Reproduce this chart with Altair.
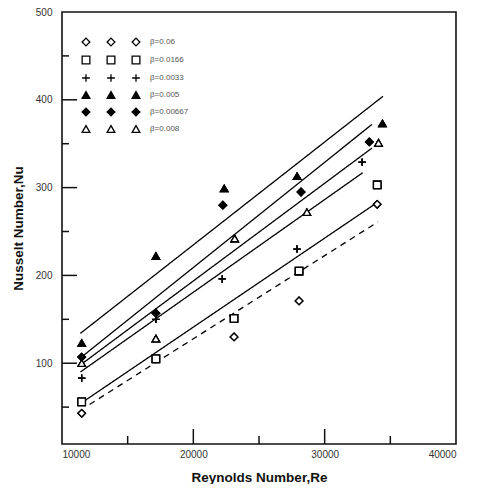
import altair as alt
import pandas as pd

# ---- data ----
series = ["β=0.06", "β=0.0166", "β=0.0033", "β=0.005", "β=0.00667", "β=0.008"]

re_006 = [11500, 23100, 28050, 34000]
nu_006 = [43, 130, 171, 281]

re_0166 = [11500, 17150, 23100, 28050, 34000]
nu_0166 = [56, 105, 151, 205, 303]

re_0033 = [11500, 17150, 22200, 27900, 32850]
nu_0033 = [83, 150, 196, 230, 329]

re_005 = [11500, 17150, 22350, 27900, 34400]
nu_005 = [123, 222, 299, 313, 373]

re_00667 = [11500, 17150, 22250, 28200, 33400]
nu_00667 = [107, 157, 280, 295, 352]

re_008 = [11500, 17150, 23150, 28650, 34100]
nu_008 = [100, 128, 242, 272, 351]

# fitted lines: start / end
line_re_006 = [12100, 34060]
line_nu_006 = [53, 261]
line_re_0166 = [11600, 33900]
line_nu_0166 = [56, 282]
line_re_0033 = [11400, 32900]
line_nu_0033 = [90, 317]
line_re_005 = [11400, 34440]
line_nu_005 = [134, 404]
line_re_00667 = [11400, 33600]
line_nu_00667 = [106, 372]
line_re_008 = [11400, 33600]
line_nu_008 = [98, 345]

# axis tick values
x_labels = [10000, 20000, 30000, 40000]
y_labels = [100, 200, 300, 400, 500]
x_major_ticks = [20000, 30000]
x_minor_ticks = [15000, 25000, 35000]
y_major_ticks = [100, 200, 300, 400]
y_minor_ticks = [50, 150, 250, 350, 450]

pts = [
    (series[0], re_006, nu_006),
    (series[1], re_0166, nu_0166),
    (series[2], re_0033, nu_0033),
    (series[3], re_005, nu_005),
    (series[4], re_00667, nu_00667),
    (series[5], re_008, nu_008),
]
lns = [
    (series[0], line_re_006, line_nu_006),
    (series[1], line_re_0166, line_nu_0166),
    (series[2], line_re_0033, line_nu_0033),
    (series[3], line_re_005, line_nu_005),
    (series[4], line_re_00667, line_nu_00667),
    (series[5], line_re_008, line_nu_008),
]
pts_df = pd.DataFrame([{"series": s, "Re": r, "Nu": n} for s, rs, ns in pts for r, n in zip(rs, ns)])
lns_df = pd.DataFrame([{"series": s, "Re": r, "Nu": n} for s, rs, ns in lns for r, n in zip(rs, ns)])

FONT = "Liberation Sans"
W, H = 394, 432
xs = alt.Scale(domain=[10000, 40000], nice=False, zero=False)
ys = alt.Scale(domain=[8, 500], nice=False, zero=False)

shape_range = ["diamond", "square", "M-1,0H1M0,-1V1", "triangle-up", "diamond", "triangle-up"]
fill_range = ["white", "white", "white", "black", "black", "white"]
stroke_range = ["black"] * 6

main_x = alt.Axis(orient="bottom", values=x_labels, format="d",
                  ticks=False, domain=False, grid=False, labelFont=FONT, labelFontSize=10,
                  labelColor="#333", labelPadding=5, title="Reynolds Number,Re",
                  titleFont=FONT, titleFontSize=13.5, titleFontWeight="bold",
                  titleColor="#111", titlePadding=11)
main_y = alt.Axis(orient="left", values=y_labels, format="d",
                  ticks=False, domain=False, grid=False, labelFont=FONT, labelFontSize=10,
                  labelColor="#333", labelPadding=10, title="Nusselt Number,Nu",
                  titleFont=FONT, titleFontSize=13.5, titleFontWeight="bold",
                  titleColor="#111", titlePadding=10)

lines = alt.Chart(lns_df).mark_line(color="black", strokeWidth=1.3).encode(
    x=alt.X("Re:Q", scale=xs, axis=main_x),
    y=alt.Y("Nu:Q", scale=ys, axis=main_y),
    detail="series:N",
    strokeDash=alt.StrokeDash("series:N", scale=alt.Scale(
        domain=series, range=[[6, 5], [1, 0], [1, 0], [1, 0], [1, 0], [1, 0]]), legend=None),
)


def xticks(vals, size):
    return alt.Chart(pd.DataFrame({"Re": vals})).mark_rule(color="#111", strokeWidth=1.5).encode(
        x=alt.X("Re:Q", scale=xs),
        y=alt.value(H), y2=alt.value(H - size))


def yticks(vals, size):
    return alt.Chart(pd.DataFrame({"Nu": vals})).mark_rule(color="#111", strokeWidth=1.5).encode(
        y=alt.Y("Nu:Q", scale=ys),
        x=alt.value(0), x2=alt.value(size))


def points(lx, show_labels):
    leg = dict(orient="none", legendX=lx, legendY=25, title=None, symbolSize=60,
               rowPadding=4, padding=0, symbolStrokeWidth=1.3,
               labelFont=FONT, labelFontSize=8, labelColor="#555", labelOffset=9)
    if not show_labels:
        leg["labelExpr"] = "''"
    return alt.Chart(pts_df).mark_point(filled=True, strokeWidth=1.3,
                                        size=55, opacity=1).encode(
        x=alt.X("Re:Q", scale=xs),
        y=alt.Y("Nu:Q", scale=ys),
        shape=alt.Shape("series:N", scale=alt.Scale(domain=series, range=shape_range),
                        legend=alt.Legend(**leg)),
        fill=alt.Fill("series:N", scale=alt.Scale(domain=series, range=fill_range),
                      legend=alt.Legend(**leg)),
        stroke=alt.Stroke("series:N", scale=alt.Scale(domain=series, range=stroke_range),
                          legend=alt.Legend(**leg)),
    )


chart = alt.layer(
    lines,
    xticks(x_major_ticks, 15), xticks(x_minor_ticks, 8),
    yticks(y_major_ticks, 15), yticks(y_minor_ticks, 7),
    points(19, False), points(44, False), points(69, True),
).resolve_scale(
    shape="independent", fill="independent", stroke="independent"
).properties(
    width=W, height=H,
    autosize=alt.AutoSizeParams(type="none"),
    padding={"left": 54, "top": 4, "right": 10, "bottom": 40},
    background="white",
).configure_view(stroke="#111", strokeWidth=1.6)

chart.save("out.html", embed_options={"renderer": "svg", "actions": False})
